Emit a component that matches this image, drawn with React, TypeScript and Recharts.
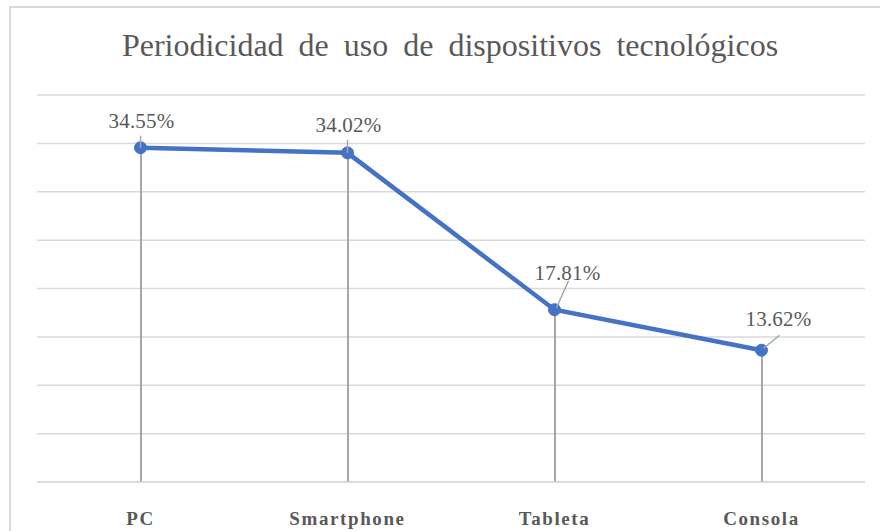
import { ComposedChart, Line, Bar, XAxis, YAxis, CartesianGrid, LabelList } from "recharts";

const categories = ["PC", "Smartphone", "Tableta", "Consola"];
const usage = [34.55, 34.02, 17.81, 13.62];
const yTicks = [0, 5, 10, 15, 20, 25, 30, 35, 40];

const data = categories.map((name, i) => ({ name, value: usage[i] }));

// label placement relative to each point (dx, dy of text; leader line ends)
const LABEL_POS = [
  { dx: 1, dy: -20, lx1: 0, ly1: -12, lx2: 0, ly2: 0 },
  { dx: 1, dy: -21, lx1: 0, ly1: -13, lx2: 0, ly2: 0 },
  { dx: 13, dy: -30, lx1: 14, ly1: -29, lx2: 2, ly2: -2 },
  { dx: 17, dy: -24, lx1: 18, ly1: -15, lx2: 2, ly2: -2 },
];

const TEXT = "#595959";
const SERIF = "Liberation Serif";

const ValueLabel = (props: any) => {
  const x = props.x ?? props.viewBox?.x;
  const y = props.y ?? props.viewBox?.y;
  const p = LABEL_POS[props.index] ?? LABEL_POS[0];
  return (
    <g>
      <line x1={x + p.lx1} y1={y + p.ly1} x2={x + p.lx2} y2={y + p.ly2} stroke="#A6A6A6" strokeWidth={1.5} />
      <text
        x={x + p.dx}
        y={y + p.dy}
        textAnchor="middle"
        style={{ fontFamily: SERIF, fontSize: 21, letterSpacing: 0.2 }}
        fill={TEXT}
      >
        {`${Number(props.value).toFixed(2)}%`}
      </text>
    </g>
  );
};

const CategoryTick = (props: any) => {
  const { x, y, payload } = props;
  return (
    <text
      x={x}
      y={y + 35}
      textAnchor="middle"
      style={{ fontFamily: SERIF, fontWeight: "bold", fontSize: 19, letterSpacing: 1.6 }}
      fill={TEXT}
    >
      {payload.value}
    </text>
  );
};

export default function App() {
  return (
    <div
      style={{
        position: "absolute",
        left: 0,
        top: 0,
        width: 880,
        height: 531,
        overflow: "hidden",
        background: "#fff",
        fontFamily: SERIF,
      }}
    >
      <div
        style={{
          position: "absolute",
          left: 9,
          top: 6,
          width: 880,
          height: 540,
          border: "2px solid #D9D9D9",
          boxSizing: "border-box",
        }}
      />
      <div
        style={{
          position: "absolute",
          left: 0,
          top: 29,
          width: 900,
          textAlign: "center",
          fontFamily: SERIF,
          fontSize: 32,
          lineHeight: 1,
          color: TEXT,
          wordSpacing: 7,
          whiteSpace: "nowrap",
        }}
      >
        Periodicidad de uso de dispositivos tecnológicos
      </div>
      <div style={{ position: "absolute", left: 0, top: 0 }}>
        <ComposedChart width={880} height={531} data={data} margin={{ top: 95, right: 15, left: 37, bottom: 0 }}>
          <CartesianGrid vertical={false} stroke="#D9D9D9" strokeWidth={1.5} />
          <XAxis
            dataKey="name"
            height={49}
            axisLine={{ stroke: "#D9D9D9", strokeWidth: 1.5 }}
            tickLine={false}
            tick={<CategoryTick />}
            interval={0}
          />
          <YAxis hide domain={[0, 40]} ticks={yTicks} />
          <Bar dataKey="value" barSize={2} fill="#A6A6A6" isAnimationActive={false} />
          <Line
            type="linear"
            dataKey="value"
            stroke="#4472C4"
            strokeWidth={4.5}
            dot={{ r: 6, fill: "#4472C4", stroke: "#4472C4", strokeWidth: 1 }}
            isAnimationActive={false}
          >
            <LabelList dataKey="value" content={<ValueLabel />} />
          </Line>
        </ComposedChart>
      </div>
    </div>
  );
}
